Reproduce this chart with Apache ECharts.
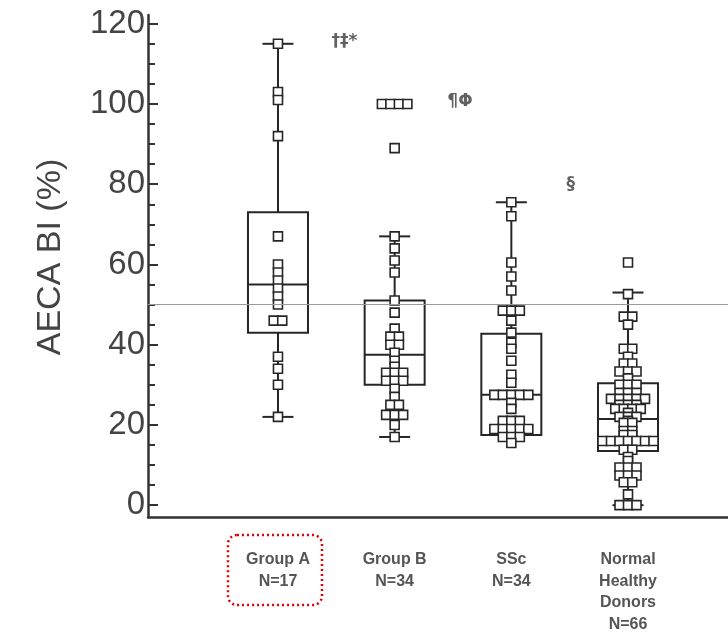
<!DOCTYPE html>
<html>
<head>
<meta charset="utf-8">
<script src="https://cdn.jsdelivr.net/npm/echarts@6/dist/echarts.min.js"></script>
<style>html,body{margin:0;padding:0;background:#fff;}#c{width:728px;height:635px;}</style>
</head>
<body>
<div id="c"></div>
<script>
// ---- data ----
const categories = ['Group A\nN=17', 'Group B\nN=34', 'SSc\nN=34', 'Normal\nHealthy\nDonors\nN=66'];
const groupA = [115, 103, 101, 92, 67, 60, 58, 56, 54, 52, 50, 46, 46, 37, 34, 30, 22];
const groupB = [100, 100, 100, 100, 89, 67, 64, 61, 58, 51, 48, 44, 42, 42, 40, 40, 38, 36, 34.5,
  33, 33, 33, 31, 31, 31, 29, 27, 25, 25, 22.5, 22.5, 22.5, 20, 17];
const groupSSc = [75.5, 72, 60.5, 57, 53.5, 48.5, 48.5, 48.5, 46, 43, 40.5, 39, 36, 32.5, 30.5,
  27.5, 27.5, 27.5, 27.5, 27.5, 25.5, 24, 21, 21, 21, 19, 19, 19, 19, 19, 17, 17, 17, 15.5];
const groupNormal = [60.5, 52.6, 47, 47, 45, 39, 39, 37, 35.3, 35.3, 33.3, 33.3, 33.3, 31.6, 30, 30, 30,
  28, 28, 28, 26.5, 26.5, 26.5, 26.5, 26.5, 25, 25, 25, 24, 24, 24, 24, 23, 22, 22, 22, 21,
  20.5, 20.5, 18.5, 18.5, 17.5, 17.5, 16, 16, 16, 16, 16, 16, 16, 13.8, 13.8, 12, 11,
  9.4, 9.4, 9.4, 7.4, 7.4, 7.4, 5.7, 5.7, 2.7, 0, 0, 0];
const groups = [groupA, groupB, groupSSc, groupNormal];
// box statistics: whisker low, Q1, median, Q3, whisker high
const boxLow    = [22, 17, 17.5, 0];
const boxQ1     = [43, 30, 17.5, 13.5];
const boxMedian = [55, 37.5, 27.5, 21.5];
const boxQ3     = [73, 51, 42.7, 30.4];
const boxHigh   = [115, 67, 75.5, 53];
const refLine = 50;
const yMajorTicks = [0, 20, 40, 60, 80, 100, 120];
const yMinorTicks = [5, 10, 15, 25, 30, 35, 45, 50, 55, 65, 70, 75, 85, 90, 95, 105, 110, 115];
const annotText = ['†‡*', '¶Φ', '§'];
const annotX = [0.57, 1.56, 2.51];
const annotY = [115.5, 100.5, 80];

// ---- build ----
const sym = 9, step = 8.5;
const scatterData = [];
groups.forEach((vals, gi) => {
  const counts = {};
  vals.forEach(v => { counts[v] = (counts[v] || 0) + 1; });
  const seen = {};
  vals.forEach(v => {
    const n = counts[v];
    const k = seen[v] = (seen[v] === undefined ? 0 : seen[v] + 1);
    const off = (k - (n - 1) / 2) * step;
    scatterData.push({ value: [gi, v], symbolOffset: [off, 0] });
  });
});
const boxData = categories.map((c, i) => [i, boxLow[i], boxQ1[i], boxMedian[i], boxQ3[i], boxHigh[i]]);
const annotData = annotText.map((t, i) => ({ value: [annotX[i], annotY[i]], name: t }));

const chart = echarts.init(document.getElementById('c'));
const ink = '#262626';
const FONT = 'Liberation Sans, Arial, sans-serif';
const yMin = -2.95, yMax = 122.18;
chart.setOption({
  backgroundColor: '#ffffff',
  animation: false,
  grid: { left: 148, right: 0, top: 15, bottom: 103 },
  xAxis: {
    type: 'value', min: -1.114, max: 3.857,
    splitLine: { show: false },
    axisLine: { show: true, onZero: false, lineStyle: { color: '#333', width: 2.5 } },
    axisTick: { show: false },
    axisLabel: {
      customValues: [0, 1, 2, 3],
      formatter: v => categories[Math.round(v)],
      fontFamily: FONT,
      fontWeight: 'bold', fontSize: 16, lineHeight: 21.5, color: '#555', margin: 32
    }
  },
  yAxis: [{
    type: 'value', min: yMin, max: yMax,
    name: 'AECA BI (%)', nameLocation: 'middle', nameRotate: 90, nameGap: 80,
    nameTextStyle: { fontFamily: FONT, fontSize: 34, color: '#444', padding: [0, 0, 0, 18] },
    splitLine: { show: false },
    axisLine: { show: true, onZero: false, lineStyle: { color: '#333', width: 2.5 } },
    axisTick: { show: true, inside: true, length: 10, customValues: yMajorTicks, lineStyle: { color: '#333', width: 2 } },
    axisLabel: { customValues: yMajorTicks, fontFamily: FONT, fontSize: 33, color: '#444', margin: 3 }
  }, {
    type: 'value', min: yMin, max: yMax, position: 'left',
    splitLine: { show: false },
    axisLine: { show: false, onZero: false },
    axisTick: { show: true, inside: true, length: 7, customValues: yMinorTicks, lineStyle: { color: '#333', width: 2 } },
    axisLabel: { show: false }
  }],
  series: [{
    type: 'custom',
    data: boxData,
    encode: { x: 0, y: [1, 2, 3, 4, 5] },
    z: 1,
    renderItem: function (params, api) {
      const x = api.value(0);
      const lo = api.coord([x, api.value(1)]);
      const q1 = api.coord([x, api.value(2)]);
      const md = api.coord([x, api.value(3)]);
      const q3 = api.coord([x, api.value(4)]);
      const hi = api.coord([x, api.value(5)]);
      const cx = q1[0], hw = 30, cw = 15.5;
      const st = { stroke: ink, lineWidth: 2, fill: null };
      const ch = [];
      if (api.value(5) > api.value(4)) {
        ch.push({ type: 'line', shape: { x1: cx, y1: q3[1], x2: cx, y2: hi[1] }, style: st });
        ch.push({ type: 'line', shape: { x1: cx - cw, y1: hi[1], x2: cx + cw, y2: hi[1] }, style: st });
      }
      if (api.value(1) < api.value(2)) {
        ch.push({ type: 'line', shape: { x1: cx, y1: q1[1], x2: cx, y2: lo[1] }, style: st });
        ch.push({ type: 'line', shape: { x1: cx - cw, y1: lo[1], x2: cx + cw, y2: lo[1] }, style: st });
      }
      ch.push({ type: 'rect', shape: { x: cx - hw, y: q3[1], width: 2 * hw, height: q1[1] - q3[1] }, style: { stroke: ink, lineWidth: 2, fill: 'rgba(0,0,0,0)' } });
      ch.push({ type: 'line', shape: { x1: cx - hw, y1: md[1], x2: cx + hw, y2: md[1] }, style: st });
      return { type: 'group', children: ch };
    }
  }, {
    type: 'scatter',
    data: scatterData,
    symbol: 'rect',
    symbolSize: sym,
    z: 3,
    itemStyle: { color: '#fff', borderColor: ink, borderWidth: 1.6, opacity: 1 },
    markLine: {
      silent: true, symbol: 'none', label: { show: false },
      lineStyle: { color: '#9a9a9a', width: 1.2, type: 'solid' },
      data: [{ yAxis: refLine }]
    }
  }, {
    type: 'scatter',
    data: annotData,
    symbolSize: 0,
    z: 4,
    label: { show: true, position: 'inside', formatter: p => p.name,
      fontFamily: 'DejaVu Sans, sans-serif', fontWeight: 'bold', fontSize: 17, color: '#3a3a3a' }
  }]
});

// red dotted rounded frame around the first category label
const p0 = chart.convertToPixel({ xAxisIndex: 0, yAxisIndex: 0 }, [0, 0]);
chart.setOption({
  graphic: [{
    type: 'rect', z: 10,
    shape: { x: p0[0] - 50, y: 535, width: 94, height: 70, r: 9 },
    style: { fill: 'none', stroke: '#e00000', lineWidth: 2.5, lineDash: [2, 3] }
  }]
});
</script>
</body>
</html>
